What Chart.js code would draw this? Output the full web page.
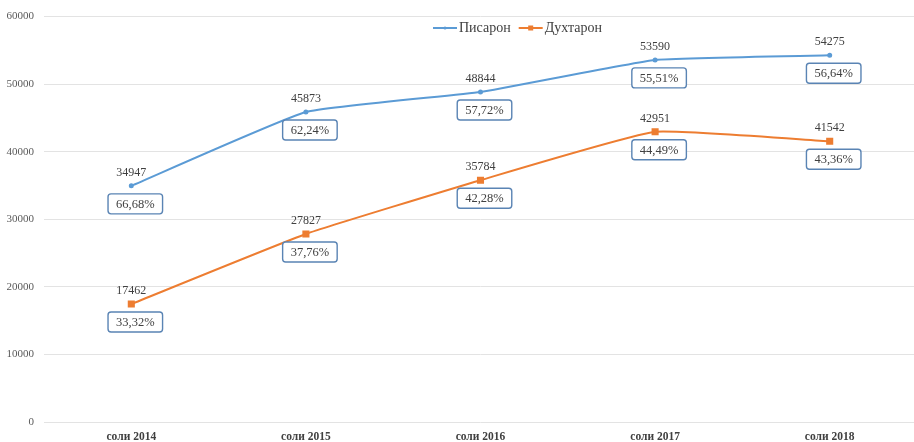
<!DOCTYPE html>
<html><head><meta charset="utf-8">
<script src="https://cdn.jsdelivr.net/npm/chart.js@4/dist/chart.umd.min.js"></script>
<style>
html,body{margin:0;padding:0;background:#fff;overflow:hidden;}
#wrap{width:923px;height:442px;position:relative;}
</style></head><body>
<div id="wrap"><canvas id="c"></canvas></div>
<script>
const categories = ['соли 2014','соли 2015','соли 2016','соли 2017','соли 2018'];
const seriesNames = ['Писарон','Духтарон'];
const boys = [34947, 45873, 48844, 53590, 54275];
const girls = [17462, 27827, 35784, 42951, 41542];
const boysPct = ['66,68%','62,24%','57,72%','55,51%','56,64%'];
const girlsPct = ['33,32%','37,76%','42,28%','44,49%','43,36%'];
const yTicks = [0, 10000, 20000, 30000, 40000, 50000, 60000];

const BLUE = '#5b9bd5', ORANGE = '#ed7d31';
const SERIF = '"Liberation Serif", "Times New Roman", serif';
const pctLabels = [boysPct, girlsPct];

const labelsPlugin = {
  id: 'labelsPlugin',
  afterDatasetsDraw(chart) {
    const ctx = chart.ctx;
    ctx.save();
    chart.data.datasets.forEach((ds, di) => {
      const meta = chart.getDatasetMeta(di);
      meta.data.forEach((pt, i) => {
        ctx.font = '12px ' + SERIF;
        ctx.fillStyle = '#404040';
        ctx.textAlign = 'center';
        ctx.textBaseline = 'middle';
        ctx.fillText(String(ds.data[i]), pt.x, pt.y - 13);
        ctx.font = '12.5px ' + SERIF;
        const txt = pctLabels[di][i];
        const tw = ctx.measureText(txt).width;
        const w = tw + 16, h = 20;
        const cx = pt.x + 4, cy = pt.y + 18;
        ctx.beginPath();
        ctx.roundRect(cx - w/2, cy - h/2, w, h, 3);
        ctx.fillStyle = '#fff';
        ctx.fill();
        ctx.lineWidth = 1.4;
        ctx.strokeStyle = '#5a84b4';
        ctx.stroke();
        ctx.fillStyle = '#404040';
        ctx.fillText(txt, cx, cy + 0.5);
      });
    });
    const ly = 28;
    ctx.font = '14px ' + SERIF;
    ctx.textAlign = 'left';
    ctx.textBaseline = 'middle';
    let x = 433;
    [[BLUE,'circle'],[ORANGE,'rect']].forEach((s, k) => {
      ctx.strokeStyle = s[0]; ctx.fillStyle = s[0]; ctx.lineWidth = 2;
      ctx.beginPath(); ctx.moveTo(x, ly); ctx.lineTo(x + 24, ly); ctx.stroke();
      if (s[1] === 'circle') { ctx.beginPath(); ctx.arc(x + 12, ly, 1.5, 0, Math.PI*2); ctx.fill(); }
      else { ctx.fillRect(x + 9.5, ly - 2.5, 5, 5); }
      ctx.fillStyle = '#404040';
      ctx.fillText(seriesNames[k], x + 26, ly);
      x += 26 + ctx.measureText(seriesNames[k]).width + 8;
    });
    ctx.restore();
  }
};

new Chart(document.getElementById('c'), {
  type: 'line',
  data: {
    labels: categories,
    datasets: [
      { label: seriesNames[0], data: boys, borderColor: BLUE, backgroundColor: BLUE,
        borderWidth: 2, pointStyle: 'circle', pointRadius: 1.5, tension: 0.12, fill: false },
      { label: seriesNames[1], data: girls, borderColor: ORANGE, backgroundColor: ORANGE,
        borderWidth: 2, pointStyle: 'rect', pointRadius: 3.6, tension: 0.12, fill: false }
    ]
  },
  options: {
    responsive: true, maintainAspectRatio: false, animation: false,
    layout: { padding: { top: 15, right: 0, left: 0, bottom: 0 } },
    plugins: { legend: { display: false }, tooltip: { enabled: false } },
    scales: {
      x: {
        offset: true,
        grid: { display: false, drawTicks: false },
        border: { display: false },
        ticks: { color: '#404040', padding: 8, font: { family: SERIF, size: 11.5, weight: 'bold' } },
        afterFit(s) { s.height = 20; }
      },
      y: {
        min: 0, max: 60000,
        afterBuildTicks(s) { s.ticks = yTicks.map(v => ({ value: v })); },
        grid: { color: '#e3e3e3', lineWidth: 1, drawTicks: false },
        border: { display: false },
        ticks: { color: '#595959', padding: 10, font: { family: SERIF, size: 11 },
                 callback: v => String(v) },
        afterFit(s) { s.width = 44; }
      }
    }
  },
  plugins: [labelsPlugin]
});
</script>
</body></html>
